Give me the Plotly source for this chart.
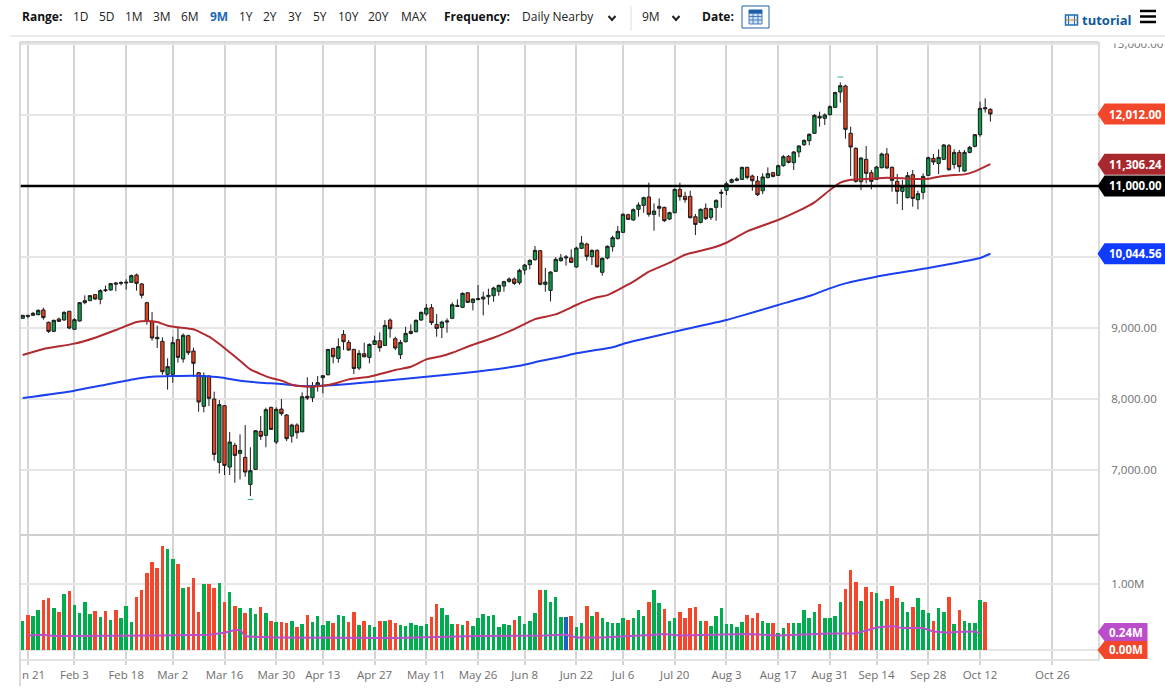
import plotly.graph_objects as go

W = 1165
H = 689

tick_idx = [1, 10, 20, 29, 39, 49, 58, 68, 78, 88, 97, 107, 116, 126, 136, 146, 156, 165, 175, 185, 199]
tick_text = ['', 'Feb 3', 'Feb 18', 'Mar 2', 'Mar 16', 'Mar 30', 'Apr 13', 'Apr 27', 'May 11', 'May 26', 'Jun 8',
             'Jun 22', 'Jul 6', 'Jul 20', 'Aug 3', 'Aug 17', 'Aug 31', 'Sep 14', 'Sep 28', 'Oct 12', 'Oct 26']

opens = [9136, 9178, 9178, 9187, 9253, 9079, 8952, 9126, 9112, 9234,
         8981, 9098, 9356, 9384, 9469, 9403, 9525, 9535, 9633, 9628,
         9633, 9643, 9746, 9619, 9356, 9089, 8868, 8812, 8347, 8347,
         8835, 8563, 8891, 8675, 8370, 7896, 8323, 7999, 7107, 7905,
         7042, 7347, 7234, 7178, 6797, 7009, 7544, 7488, 7882, 7394,
         7858, 7774, 7478, 7633, 7539, 8037, 8018, 8192, 8300, 8341,
         8712, 8571, 8909, 8797, 8698, 8435, 8637, 8585, 8768, 8820,
         8754, 9111, 8848, 8623, 8806, 8923, 8947, 9111, 9196, 9285,
         9050, 9008, 9083, 9135, 9318, 9290, 9496, 9360, 9398, 9407,
         9440, 9454, 9515, 9590, 9656, 9689, 9637, 9816, 9891, 9961,
         10088, 9614, 9529, 9797, 9947, 9985, 9985, 9858, 10121, 10182,
         10003, 10092, 9783, 9985, 10144, 10257, 10346, 10595, 10520, 10670,
         10726, 10844, 10599, 10712, 10698, 10533, 10623, 10951, 10853, 10853,
         10566, 10486, 10684, 10557, 10698, 10895, 10937, 11050, 11078, 11092,
         11261, 11139, 11069, 10932, 11116, 11186, 11148, 11285, 11416, 11327,
         11477, 11580, 11637, 11740, 11979, 11951, 12003, 12106, 12322, 12407,
         11740, 11529, 11059, 11374, 11186, 11092, 11256, 11449, 11261, 11064,
         10923, 10834, 11158, 10806, 10909, 11148, 11388, 11317, 11374, 11566,
         11303, 11472, 11209, 11472, 11557, 11721, 12101, 12078]
highs = [9182, 9182, 9225, 9262, 9286, 9089, 9117, 9145, 9234, 9243,
         9136, 9366, 9459, 9464, 9478, 9544, 9596, 9633, 9647, 9657,
         9685, 9751, 9765, 9633, 9370, 9225, 9032, 8868, 8572, 8877,
         8999, 8924, 8905, 8722, 8380, 8375, 8333, 8103, 7985, 7915,
         7535, 7384, 7502, 7633, 7319, 7563, 7760, 7877, 7891, 7882,
         7999, 7788, 7652, 7657, 8093, 8305, 8239, 8323, 8337, 8703,
         8722, 8853, 8970, 8830, 8707, 8689, 8792, 8783, 8891, 8938,
         9111, 9135, 8877, 8830, 9017, 9050, 9121, 9233, 9337, 9337,
         9196, 9102, 9135, 9360, 9402, 9501, 9506, 9416, 9604, 9510,
         9553, 9581, 9609, 9665, 9712, 9712, 9834, 9900, 9966, 10154,
         10097, 9844, 9797, 9994, 10041, 10027, 10107, 10144, 10294, 10200,
         10107, 10107, 9994, 10163, 10299, 10435, 10614, 10609, 10684, 10769,
         10848, 11046, 10754, 10824, 10707, 10637, 10965, 11045, 10918, 10932,
         10604, 10684, 10754, 10688, 10810, 10951, 11059, 11106, 11120, 11270,
         11270, 11158, 11139, 11177, 11261, 11200, 11299, 11435, 11435, 11491,
         11571, 11655, 11740, 12012, 12045, 12022, 12134, 12327, 12458, 12425,
         11834, 11543, 11402, 11562, 11224, 11280, 11468, 11533, 11275, 11167,
         11083, 11195, 11224, 10932, 11177, 11411, 11449, 11515, 11590, 11590,
         11515, 11505, 11505, 11562, 11731, 12186, 12233, 12092]
lows = [9131, 9136, 9173, 9178, 9117, 8929, 8943, 9084, 9103, 8981,
        8971, 9089, 9333, 9380, 9394, 9333, 9506, 9525, 9516, 9600,
        9539, 9633, 9525, 9417, 9046, 8821, 8718, 8342, 8131, 8229,
        8511, 8511, 8619, 8314, 7821, 7812, 7901, 7131, 6952, 6929,
        6929, 6821, 6868, 6905, 6633, 7000, 7422, 7319, 7563, 7366,
        7765, 7408, 7384, 7441, 7530, 7985, 7957, 8103, 8079, 8332,
        8501, 8510, 8689, 8679, 8351, 8407, 8585, 8501, 8759, 8665,
        8745, 8862, 8689, 8562, 8797, 8909, 8938, 9102, 9172, 9041,
        8877, 8858, 8933, 9125, 9299, 9280, 9351, 9247, 9393, 9177,
        9327, 9369, 9454, 9510, 9637, 9604, 9609, 9750, 9825, 9947,
        9600, 9510, 9374, 9787, 9933, 9877, 9914, 9848, 10111, 9947,
        9886, 9848, 9736, 9966, 10074, 10247, 10337, 10520, 10510, 10567,
        10623, 10567, 10369, 10566, 10491, 10519, 10613, 10792, 10763, 10543,
        10308, 10472, 10519, 10519, 10510, 10693, 10871, 11036, 11064, 11083,
        11092, 10932, 10857, 10885, 11106, 11120, 11139, 11270, 11317, 11224,
        11402, 11562, 11571, 11731, 11834, 11857, 11989, 12097, 12172, 11665,
        11139, 11045, 10942, 11036, 10951, 11083, 11247, 11242, 10918, 10745,
        10660, 10824, 10707, 10670, 10810, 11139, 11294, 11167, 11364, 11214,
        11242, 11195, 11200, 11458, 11543, 11693, 12031, 11904]
closes = [9178, 9164, 9206, 9248, 9145, 8952, 9107, 9093, 9220, 8999,
          9117, 9356, 9384, 9455, 9408, 9525, 9535, 9624, 9619, 9638,
          9643, 9736, 9628, 9459, 9093, 8859, 8849, 8384, 8455, 8793,
          8586, 8896, 8652, 8502, 7957, 8328, 8009, 7220, 7920, 7065,
          7394, 7206, 7276, 6971, 6990, 7553, 7474, 7849, 7572, 7854,
          7793, 7441, 7633, 7525, 8032, 8013, 8187, 8229, 8328, 8698,
          8595, 8736, 8806, 8689, 8430, 8642, 8595, 8768, 8820, 8722,
          9036, 8989, 8717, 8797, 8923, 8952, 9107, 9219, 9280, 9074,
          8994, 9083, 9097, 9327, 9304, 9487, 9360, 9407, 9412, 9435,
          9459, 9562, 9600, 9651, 9689, 9628, 9811, 9886, 9952, 10092,
          9614, 9646, 9787, 9966, 9985, 9999, 9923, 10125, 10196, 10008,
          10092, 9862, 9980, 10149, 10271, 10360, 10600, 10529, 10665, 10731,
          10834, 10600, 10646, 10684, 10510, 10623, 10951, 10848, 10806, 10552,
          10458, 10670, 10538, 10679, 10796, 10909, 11031, 11087, 11097, 11261,
          11120, 11073, 10876, 11125, 11172, 11134, 11285, 11411, 11331, 11477,
          11562, 11641, 11726, 11993, 11956, 11998, 12116, 12313, 12411, 11796,
          11547, 11064, 11393, 11177, 11064, 11266, 11449, 11252, 11078, 10923,
          10989, 11144, 10824, 10890, 11134, 11397, 11336, 11402, 11576, 11228,
          11472, 11270, 11472, 11543, 11721, 12092, 12087, 12012]

volumes = [.44, .53, .51, .61, .75, .78, .63, .57, .84, .89,
           .68, .56, .72, .54, .59, .50, .59, .45, .61, .48,
           .66, .42, .80, .90, 1.16, 1.33, 1.24, 1.57, 1.52, 1.37,
           1.29, .93, .95, 1.09, .57, 1.00, 1.00, .93, 1.01, .72,
           .87, .66, .63, .56, .63, .55, .65, .56, .44, .42,
           .42, .41, .43, .35, .39, .53, .42, .52, .38, .43,
           .40, .53, .51, .42, .58, .37, .43, .38, .35, .44,
           .43, .46, .41, .38, .36, .41, .38, .36, .39, .50,
           .69, .63, .53, .39, .39, .37, .43, .36, .48, .55,
           .51, .53, .34, .39, .38, .46, .51, .39, .44, .56,
           .90, .91, .73, .80, .50, .50, .51, .35, .40, .66,
           .51, .57, .48, .42, .40, .40, .48, .46, .48, .60,
           .52, .73, .90, .71, .62, .44, .49, .58, .48, .64,
           .65, .44, .44, .36, .52, .63, .39, .39, .35, .42,
           .53, .48, .56, .43, .41, .40, .26, .33, .41, .40,
           .41, .61, .49, .57, .70, .48, .48, .52, .72, .92,
           1.20, 1.02, .74, .95, .87, .86, .74, .77, .96, .79,
           .72, .57, .65, .78, .60, .56, .44, .64, .57, .80,
           .39, .60, .44, .40, .40, .75, .72, 0]
volume_dir = list('grggrrgrgr' 'ggggrgrgrg' 'ggrrrrrrgg' 'rgrrrgrrgr' 'grgrggrgrg'
                  'rrgrgrgggg' 'rggrrgrggr' 'grrggggggr' 'rgggrgrggg' 'gggggrgggg'
                  'rggggbrggr' 'grgggggrgg' 'grggrggrrr' 'rgrggggggg' 'rrrggrggrg'
                  'ggggrggggr' 'rrgrrggrrr' 'ggrgggrggr' 'grggggrr')

ma50_idx = [0, 4, 10, 14, 18, 22, 24, 26, 28, 30, 33, 36, 38, 40, 42, 44, 46, 48, 50, 52, 54, 56,
            59, 61, 63, 67, 70, 72, 75, 78, 81, 83, 87, 91, 95, 99, 103, 107, 109, 111, 113, 115, 118, 121,
            125, 128, 133, 136, 140, 146, 150, 153, 156, 158, 160, 162, 164, 167, 170, 172, 175, 177, 179, 182, 184, 187]
ma50_val = [8619, 8704, 8779, 8863, 8971, 9084, 9098, 9084, 9032, 9009, 8981, 8877, 8774, 8657, 8539, 8417, 8351, 8295,
            8258, 8201, 8178, 8173, 8196, 8233, 8276, 8313, 8369, 8407, 8454, 8557, 8604, 8651, 8764, 8862, 8984, 9125,
            9191, 9323, 9384, 9431, 9463, 9534, 9651, 9792, 9919, 10031, 10121, 10200, 10360, 10520, 10651, 10769, 10942,
            11046, 11088, 11092, 11101, 11115, 11106, 11097, 11101, 11130, 11148, 11162, 11205, 11306.24]

ma200_idx = [0, 10, 16, 22, 25, 33, 38, 42, 46, 50, 54, 58, 68, 78, 88, 96, 100, 104, 107, 114, 116, 119,
             126, 136, 139, 146, 152, 156, 159, 165, 175, 185, 187]
ma200_val = [8013, 8117, 8201, 8286, 8314, 8328, 8305, 8258, 8229, 8211, 8182, 8187, 8243, 8313, 8388, 8468, 8534, 8591,
             8643, 8728, 8775, 8830, 8948, 9112, 9173, 9323, 9449, 9557, 9628, 9722, 9844, 9985, 10044.56]

vol_ma_idx = [1, 4, 6, 16, 26, 36, 39, 41, 42, 43, 44, 49, 60, 72, 88, 99, 101, 104, 105, 107, 112, 122, 124, 127, 140,
              146, 150, 156, 161, 163, 165, 168, 170, 174, 176, 179, 180, 184, 185]
vol_ma_val = [.22, .23, .21, .21, .22, .23, .26, .30, .30, .21, .20, .19, .18, .18, .21, .21, .22, .23, .23, .19, .19, .23,
              .24, .22, .24, .22, .23, .25, .25, .30, .34, .36, .33, .33, .28, .26, .27, .28, .25]

mark_idx = [44, 158]
mark_val = [6585, 12533]

level_line = 11000
price_ticks = [7000, 8000, 9000, 10000, 11000, 12000, 13000]
price_tick_text = ['7,000.00', '8,000.00', '9,000.00', '', '', '', '13,000.00']  # the rest sit under the tags
price_tags = [(12012.00, '#f2472a', '12,012.00'), (11306.24, '#a8282d', '11,306.24'),
              (11000.00, '#000000', '11,000.00'), (10044.56, '#0f3bff', '10,044.56')]
volume_tags = [(0.24, '#bb4dcb', '0.24M', 2), (0.00, '#f2472a', '0.00M', 0)]

range_labels = [('1D', 73), ('5D', 99), ('1M', 125), ('3M', 153), ('6M', 181), ('9M', 210), ('1Y', 239), ('2Y', 263),
                ('3Y', 288), ('5Y', 313), ('10Y', 338), ('20Y', 368), ('MAX', 401)]

x_all = list(range(len(closes)))
colors = {'g': '#00ad4e', 'r': '#f5452a', 'b': '#1b63c0'}


def px(x):
    return x / W


def py(y):
    return 1 - y / H


fig = go.Figure()
fig.add_trace(go.Candlestick(x=x_all, open=opens, high=highs, low=lows, close=closes, xaxis='x', yaxis='y',
                             increasing=dict(line=dict(color='#1c1c1c', width=1), fillcolor='#0b9a48'),
                             decreasing=dict(line=dict(color='#1c1c1c', width=1), fillcolor='#e9421f'),
                             hoverinfo='skip', showlegend=False))
fig.add_trace(go.Scatter(x=ma200_idx, y=ma200_val, mode='lines', line=dict(color='#1a40f0', width=2, shape='spline', smoothing=0.5),
                         xaxis='x', yaxis='y', showlegend=False))
fig.add_trace(go.Scatter(x=ma50_idx, y=ma50_val, mode='lines', line=dict(color='#b02a30', width=2, shape='spline', smoothing=0.5),
                         xaxis='x', yaxis='y', showlegend=False))
fig.add_trace(go.Scatter(x=mark_idx, y=mark_val, mode='markers', marker=dict(symbol='line-ew', size=4, line=dict(color='#35b56f', width=1)),
                         xaxis='x', yaxis='y', showlegend=False))
fig.add_trace(go.Bar(x=x_all, y=volumes, marker=dict(color=[colors[d] for d in volume_dir], line=dict(width=0)), width=0.68,
                     xaxis='x2', yaxis='y2', showlegend=False))
fig.add_trace(go.Scatter(x=vol_ma_idx, y=vol_ma_val, mode='lines', line=dict(color='#bb4dcb', width=2), xaxis='x2', yaxis='y2',
                         showlegend=False))

x_range = [-0.52, 207.8]
text_font = dict(family='Open Sans', size=11.5, color='#6e6e6e')
head_font = dict(family='Open Sans', size=12, color='#222222')
head_bold = dict(family='Open Sans', size=12, color='#111111', weight='bold')

fig.update_layout(
    width=W, height=H, margin=dict(l=0, r=0, t=0, b=0, autoexpand=False), paper_bgcolor='white', plot_bgcolor='white',
    showlegend=False, bargap=0, boxgap=0.08, font=text_font,
    xaxis=dict(domain=[px(20), px(1098)], range=x_range, anchor='y', tickmode='array', tickvals=tick_idx, ticktext=['' for _ in tick_idx],
               showgrid=True, gridcolor='#d4d4d4', gridwidth=1.5, zeroline=False, showline=True, linecolor='#cfcfcf', linewidth=2,
               ticks='', rangeslider=dict(visible=False)),
    yaxis=dict(domain=[py(534), py(42)], range=[6099, 13026], side='right', anchor='x', tickmode='array', tickvals=price_ticks,
               ticktext=price_tick_text, ticklabelstandoff=9, showgrid=True, gridcolor='#e6e6e6', gridwidth=2,
               zeroline=False, showline=True, linecolor='#dcdcdc', linewidth=2, ticks='', tickfont=text_font),
    xaxis2=dict(domain=[px(20), px(1098)], range=x_range, anchor='y2', matches='x', tickmode='array', tickvals=tick_idx, ticktext=tick_text,
                showgrid=True, gridcolor='#d4d4d4', gridwidth=1.5, zeroline=False, showline=True, linecolor='#e3e3e3', linewidth=2,
                ticks='outside', ticklen=4, tickcolor='#d4d4d4', tickwidth=1.5, tickangle=0, tickfont=text_font),
    yaxis2=dict(domain=[py(659), py(535)], range=[-0.136, 1.735], side='right', anchor='x2', tickmode='array', tickvals=[0, 1],
                ticktext=['', '1.00M'], ticklabelstandoff=9, showgrid=True, gridcolor='#e6e6e6', gridwidth=2, zeroline=False,
                showline=True, linecolor='#dcdcdc', linewidth=2, ticks='', tickfont=text_font),
)

shapes = []
annos = []


def line_px(x0, y0, x1, y1, color, width=1):
    shapes.append(dict(type='line', xref='paper', yref='paper', x0=px(x0), x1=px(x1), y0=py(y0), y1=py(y1),
                       line=dict(color=color, width=width), layer='above'))


def text_px(x, y, text, font, anchor='left'):
    annos.append(dict(xref='paper', yref='paper', x=px(x), y=py(y), text=text, showarrow=False, xanchor=anchor, yanchor='middle',
                      font=font, borderpad=0))


# level line and chart edges
shapes.append(dict(type='line', xref='paper', yref='y', x0=px(20), x1=px(1098), y0=level_line, y1=level_line,
                   line=dict(color='#000000', width=2.5), layer='above'))
line_px(20, 42, 20, 686, '#cfcfcf', 1.5)
line_px(10, 36, 1165, 36, '#d6d6d6', 1)
line_px(20, 42, 1098, 42, '#cfcfcf', 1.5)


def tag(value, color, label, yref, right, half, shift=0):
    path = 'M 0 {c} L 7 {t} L {r} {t} L {r} {b} L 7 {b} Z'.format(c=shift, t=shift - half, b=shift + half, r=right)
    shapes.append(dict(type='path', xref='paper', yref=yref, xsizemode='pixel', ysizemode='pixel', xanchor=px(1097.5), yanchor=value,
                       path=path, fillcolor=color, line=dict(width=0), layer='above'))
    annos.append(dict(xref='paper', yref=yref, x=px(1108), y=value, yshift=shift, text='<b>' + label + '</b>', showarrow=False, xanchor='left',
                      yanchor='middle', font=dict(family='Open Sans', size=11.5, color='white'), borderpad=0))


for v, c, t in price_tags:
    tag(v, c, t, 'y', 67.5, 10.5)
for v, c, t, s in volume_tags:
    tag(v, c, t, 'y2', 50, 9, s)

# hides the top half of the 13,000.00 label
annos.append(dict(xref='paper', yref='paper', x=px(1100), y=py(37), xanchor='left', yanchor='top', text=' ', showarrow=False, width=64,
                  height=4.5, bgcolor='white', font=dict(size=1), borderpad=0))

text_px(21, 674, 'n 21', text_font)

# header bar
text_px(21, 16, 'Range:', head_bold)
for lab, x in range_labels:
    if lab == '9M':
        text_px(x - 1, 16, lab, dict(family='Open Sans', size=12, color='#1c66b8', weight='bold'))
    else:
        text_px(x - 1, 16, lab, head_font)
text_px(443, 16, 'Frequency:', head_bold)
text_px(521, 16, 'Daily Nearby', head_font)
text_px(641, 16, '9M', head_font)
text_px(701, 16, 'Date:', head_bold)
text_px(1081, 20, 'tutorial', dict(family='Open Sans', size=13, color='#0e5a9c', weight='bold'))

for cx in [612, 676]:
    shapes.append(dict(type='path', xref='paper', yref='paper', path='M {} {} L {} {} L {} {}'.format(
        px(cx - 3.5), py(16), px(cx), py(20), px(cx + 3.5), py(16)), line=dict(color='#222222', width=2), layer='above'))
line_px(631, 6, 631, 31, '#dddddd', 1)

# calendar button
shapes.append(dict(type='rect', xref='paper', yref='paper', x0=px(742), x1=px(769), y0=py(28), y1=py(6),
                   line=dict(color='#1f5fa8', width=1), fillcolor='white', layer='above'))
shapes.append(dict(type='rect', xref='paper', yref='paper', x0=px(749), x1=px(762), y0=py(24), y1=py(13),
                   line=dict(color='#4a7fb8', width=1), fillcolor='#cfe0f0', layer='above'))
shapes.append(dict(type='rect', xref='paper', yref='paper', x0=px(749), x1=px(762), y0=py(13), y1=py(10),
                   line=dict(color='#1f5fa8', width=1), fillcolor='#1f5fa8', layer='above'))
for cx in [753, 758]:
    line_px(cx, 13, cx, 24, '#4a7fb8', 1)
for cy in [16.5, 20]:
    line_px(749, cy, 762, cy, '#4a7fb8', 1)

# film icon next to tutorial
shapes.append(dict(type='rect', xref='paper', yref='paper', x0=px(1065.5), x1=px(1077.5), y0=py(25), y1=py(15),
                   line=dict(color='#1f6db0', width=1.5), fillcolor='#eaf2fa', layer='above'))
for cx in [1068.5, 1074.5]:
    line_px(cx, 15, cx, 25, '#1f6db0', 1)
line_px(1065.5, 20, 1077.5, 20, '#d9822b', 1)

# menu icon
for cy in [11, 16.5, 22]:
    line_px(1140, cy, 1156, cy, '#000000', 2.5)

fig.update_layout(shapes=shapes, annotations=annos)
fig.write_html("out.html", config={'displayModeBar': False},
               post_script="document.body.style.margin='0';document.documentElement.style.overflow='hidden';")
